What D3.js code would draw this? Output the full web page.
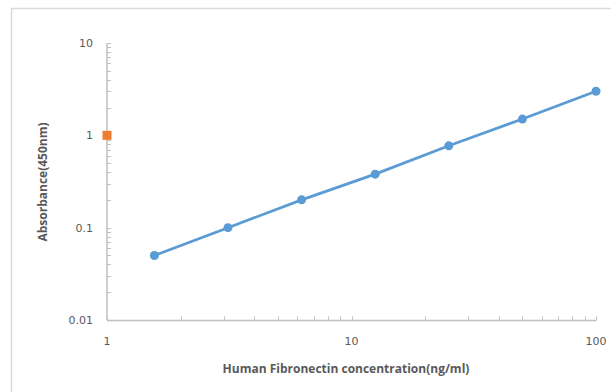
<!DOCTYPE html>
<html lang="en">
<head>
<meta charset="UTF-8">
<title>Fibronectin standard curve</title>
<script src="https://d3js.org/d3.v7.min.js"></script>
<style>
    body { margin: 0; background: #fff; }
    text { fill: #595959; }
</style>
</head>
<body>
<svg id="chart"></svg>
<script>
    // standard curve readings
    const concentration = [1.5625, 3.125, 6.25, 12.5, 25, 50, 100];
    const absorbance = [0.05, 0.1, 0.2, 0.38, 0.77, 1.5, 3.0];
    // single extra point (orange)
    const sampleX = [1];
    const sampleY = [1];
    const xTickLabels = [1, 10, 100];
    const yTickLabels = [0.01, 0.1, 1, 10];

    const width = 611, height = 392;
    const svg = d3.select("#chart").attr("width", width).attr("height", height);

    // chart area border (only left and top visible)
    svg.append("path")
        .attr("d", "M11.5,392 V8.5 H611")
        .attr("fill", "none")
        .attr("stroke", "#d9d9d9")
        .attr("stroke-width", 1.5);

    let x = d3.scaleLog().domain([1, 100]).range([107, 596]);
    let y = d3.scaleLog().domain([0.01, 10]).range([320, 43]);

    // minor ticks 1..9 in every decade
    function logTicks(lo, hi) {
        let t = [];
        for (let d = lo; d < hi; d *= 10) {
            for (let k = 1; k < 10; k++) t.push(+(d * k).toPrecision(3));
        }
        t.push(hi);
        return t;
    }

    let axisColor = "#bfbfbf";

    // y axis
    let gy = svg.append("g").attr("transform", "translate(107,0)");
    gy.append("line").attr("y1", y(10)).attr("y2", y(0.01)).attr("stroke", axisColor).attr("stroke-width", 1.5);
    gy.selectAll(".yt").data(logTicks(0.01, 10)).enter().append("line")
        .attr("x1", 0).attr("x2", 4)
        .attr("y1", d => Math.round(y(d)) + 0.5).attr("y2", d => Math.round(y(d)) + 0.5)
        .attr("stroke", axisColor);
    gy.selectAll(".yl").data(yTickLabels).enter().append("text")
        .attr("x", -14).attr("y", d => y(d)).attr("dy", "0.35em")
        .attr("text-anchor", "end")
        .style("font-family", "DejaVu Sans").style("font-size", "11px")
        .text(d => d);

    // x axis
    let gx = svg.append("g").attr("transform", "translate(0,320.5)");
    gx.append("line").attr("x1", x(1)).attr("x2", x(100)).attr("stroke", axisColor).attr("stroke-width", 1.5);
    gx.selectAll(".xt").data(logTicks(1, 100)).enter().append("line")
        .attr("y1", 0).attr("y2", -4)
        .attr("x1", d => Math.round(x(d)) + 0.5).attr("x2", d => Math.round(x(d)) + 0.5)
        .attr("stroke", axisColor);
    gx.selectAll(".xl").data(xTickLabels).enter().append("text")
        .attr("x", d => x(d)).attr("y", 24)
        .attr("text-anchor", "middle")
        .style("font-family", "DejaVu Sans").style("font-size", "11px")
        .text(d => d);

    // axis titles
    svg.append("text")
        .attr("x", 346).attr("y", 373)
        .attr("text-anchor", "middle")
        .style("font-family", "Open Sans").style("font-weight", "bold").style("font-size", "12px")
        .text("Human Fibronectin concentration(ng/ml)");
    svg.append("text")
        .attr("transform", "translate(47,182) rotate(-90)")
        .attr("text-anchor", "middle")
        .style("font-family", "Open Sans").style("font-weight", "bold").style("font-size", "12px")
        .text("Absorbance(450nm)");

    // series
    let pts = concentration.map((c, i) => [c, absorbance[i]]);
    svg.append("path")
        .datum(pts)
        .attr("fill", "none")
        .attr("stroke", "#5b9bd5")
        .attr("stroke-width", 2.75)
        .attr("stroke-linecap", "round")
        .attr("d", d3.line().x(d => x(d[0])).y(d => y(d[1])));
    svg.selectAll(".dot").data(pts).enter().append("circle")
        .attr("cx", d => x(d[0])).attr("cy", d => y(d[1]))
        .attr("r", 4.5)
        .attr("fill", "#5b9bd5");

    svg.selectAll(".sq").data(sampleX.map((v, i) => [v, sampleY[i]])).enter().append("rect")
        .attr("x", d => x(d[0]) - 4.5).attr("y", d => y(d[1]) - 4.5)
        .attr("width", 9).attr("height", 9)
        .attr("fill", "#ed7d31");
</script>
</body>
</html>
